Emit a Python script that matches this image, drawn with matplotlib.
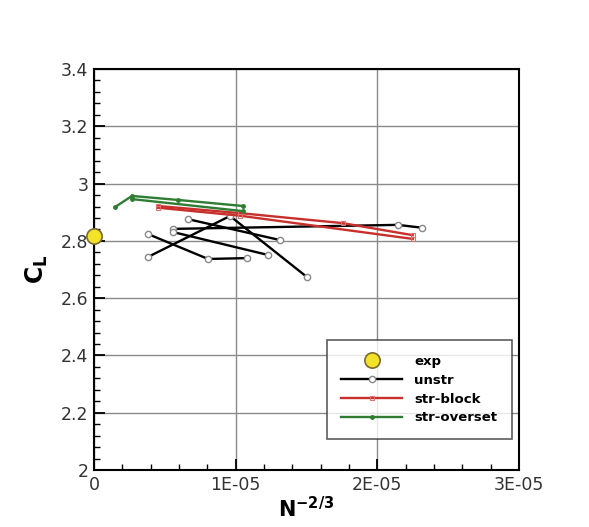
import numpy as np
import matplotlib
matplotlib.use('Agg')
import matplotlib.pyplot as plt
from matplotlib.ticker import MultipleLocator, FuncFormatter

# experiment
exp_x = [0.0]
exp_y = [2.817]

# unstructured grid families (N^-2/3 in units of 1E-05)
unstr = [
    ([0.381, 0.805, 1.08], [2.824, 2.737, 2.740]),
    ([0.381, 0.96, 1.503], [2.744, 2.887, 2.674]),
    ([0.663, 1.313], [2.876, 2.803]),
    ([0.557, 2.145, 2.315], [2.842, 2.856, 2.846]),
    ([0.557, 1.228], [2.831, 2.751]),
]

# structured block
strblock = [
    ([0.45, 1.03, 1.757, 2.25], [2.922, 2.897, 2.862, 2.820]),
    ([0.45, 1.03, 2.25], [2.916, 2.888, 2.807]),
]

# structured overset
stroverset = [
    ([0.148, 0.268, 0.593, 1.05], [2.918, 2.957, 2.943, 2.922]),
    ([0.268, 1.05], [2.946, 2.904]),
]

fig = plt.figure(figsize=(5.89, 5.27), dpi=100)
ax = fig.add_axes([0.1596, 0.108, 0.7216, 0.761])

ax.grid(True, which='major', color='#8a8a8a', lw=1)
ax.set_axisbelow(True)

for k, (x, y) in enumerate(unstr):
    ax.plot(np.array(x) * 1e-5, y, '-o', color='black', lw=1.7, ms=4.5,
            mfc='white', mec='#888888', mew=1, label='unstr' if k == 0 else None)
for k, (x, y) in enumerate(strblock):
    ax.plot(np.array(x) * 1e-5, y, '-s', color='#c8302c', lw=1.7, ms=3.5,
            mfc='none', mec='#e07070', mew=0.8, label='str-block' if k == 0 else None)
for k, (x, y) in enumerate(stroverset):
    ax.plot(np.array(x) * 1e-5, y, '-o', color='#2e7d32', lw=1.7, ms=2.5,
            mfc='#2e7d32', mec='#2e7d32', label='str-overset' if k == 0 else None)

ax.plot(exp_x, exp_y, 'o', ms=11, mfc='#f2e22a', mec='#7a6a30', mew=1.2,
        ls='none', label='exp', clip_on=False, zorder=10)

ax.set_xlim(0, 3e-5)
ax.set_ylim(2, 3.4)
ax.xaxis.set_major_locator(MultipleLocator(1e-5))
ax.xaxis.set_minor_locator(MultipleLocator(2e-6))
ax.yaxis.set_major_locator(MultipleLocator(0.2))
ax.yaxis.set_minor_locator(MultipleLocator(0.04))
ax.xaxis.set_major_formatter(FuncFormatter(lambda v, p: '0' if abs(v) < 1e-12 else '%dE-05' % round(v * 1e5)))
ax.yaxis.set_major_formatter(FuncFormatter(lambda v, p: '%g' % round(v, 2)))
ax.tick_params(which='major', direction='in', length=8, width=1.3, labelsize=12.5, colors='black', labelcolor='#333333', pad=4)
ax.tick_params(which='minor', direction='in', length=4, width=1)
for s in ax.spines.values():
    s.set_linewidth(1.5)

ax.set_xlabel(r'$\mathbf{N^{-2/3}}$', fontsize=15, labelpad=2)
ax.set_ylabel(r'$\mathbf{C_L}$', fontsize=17, labelpad=8)

h, l = ax.get_legend_handles_labels()
order = [3, 0, 1, 2]
leg = ax.legend([h[i] for i in order], [l[i] for i in order], loc='upper left',
                bbox_to_anchor=(0.548, 0.324), frameon=True, fancybox=False,
                edgecolor='#333333', handlelength=4.6, borderpad=1.1,
                labelspacing=0.45, handletextpad=0.9, borderaxespad=0,
                prop={'weight': 'bold', 'size': 9.5})
leg.get_frame().set_linewidth(1.2)

fig.savefig('out.png', dpi=100, facecolor='white')
